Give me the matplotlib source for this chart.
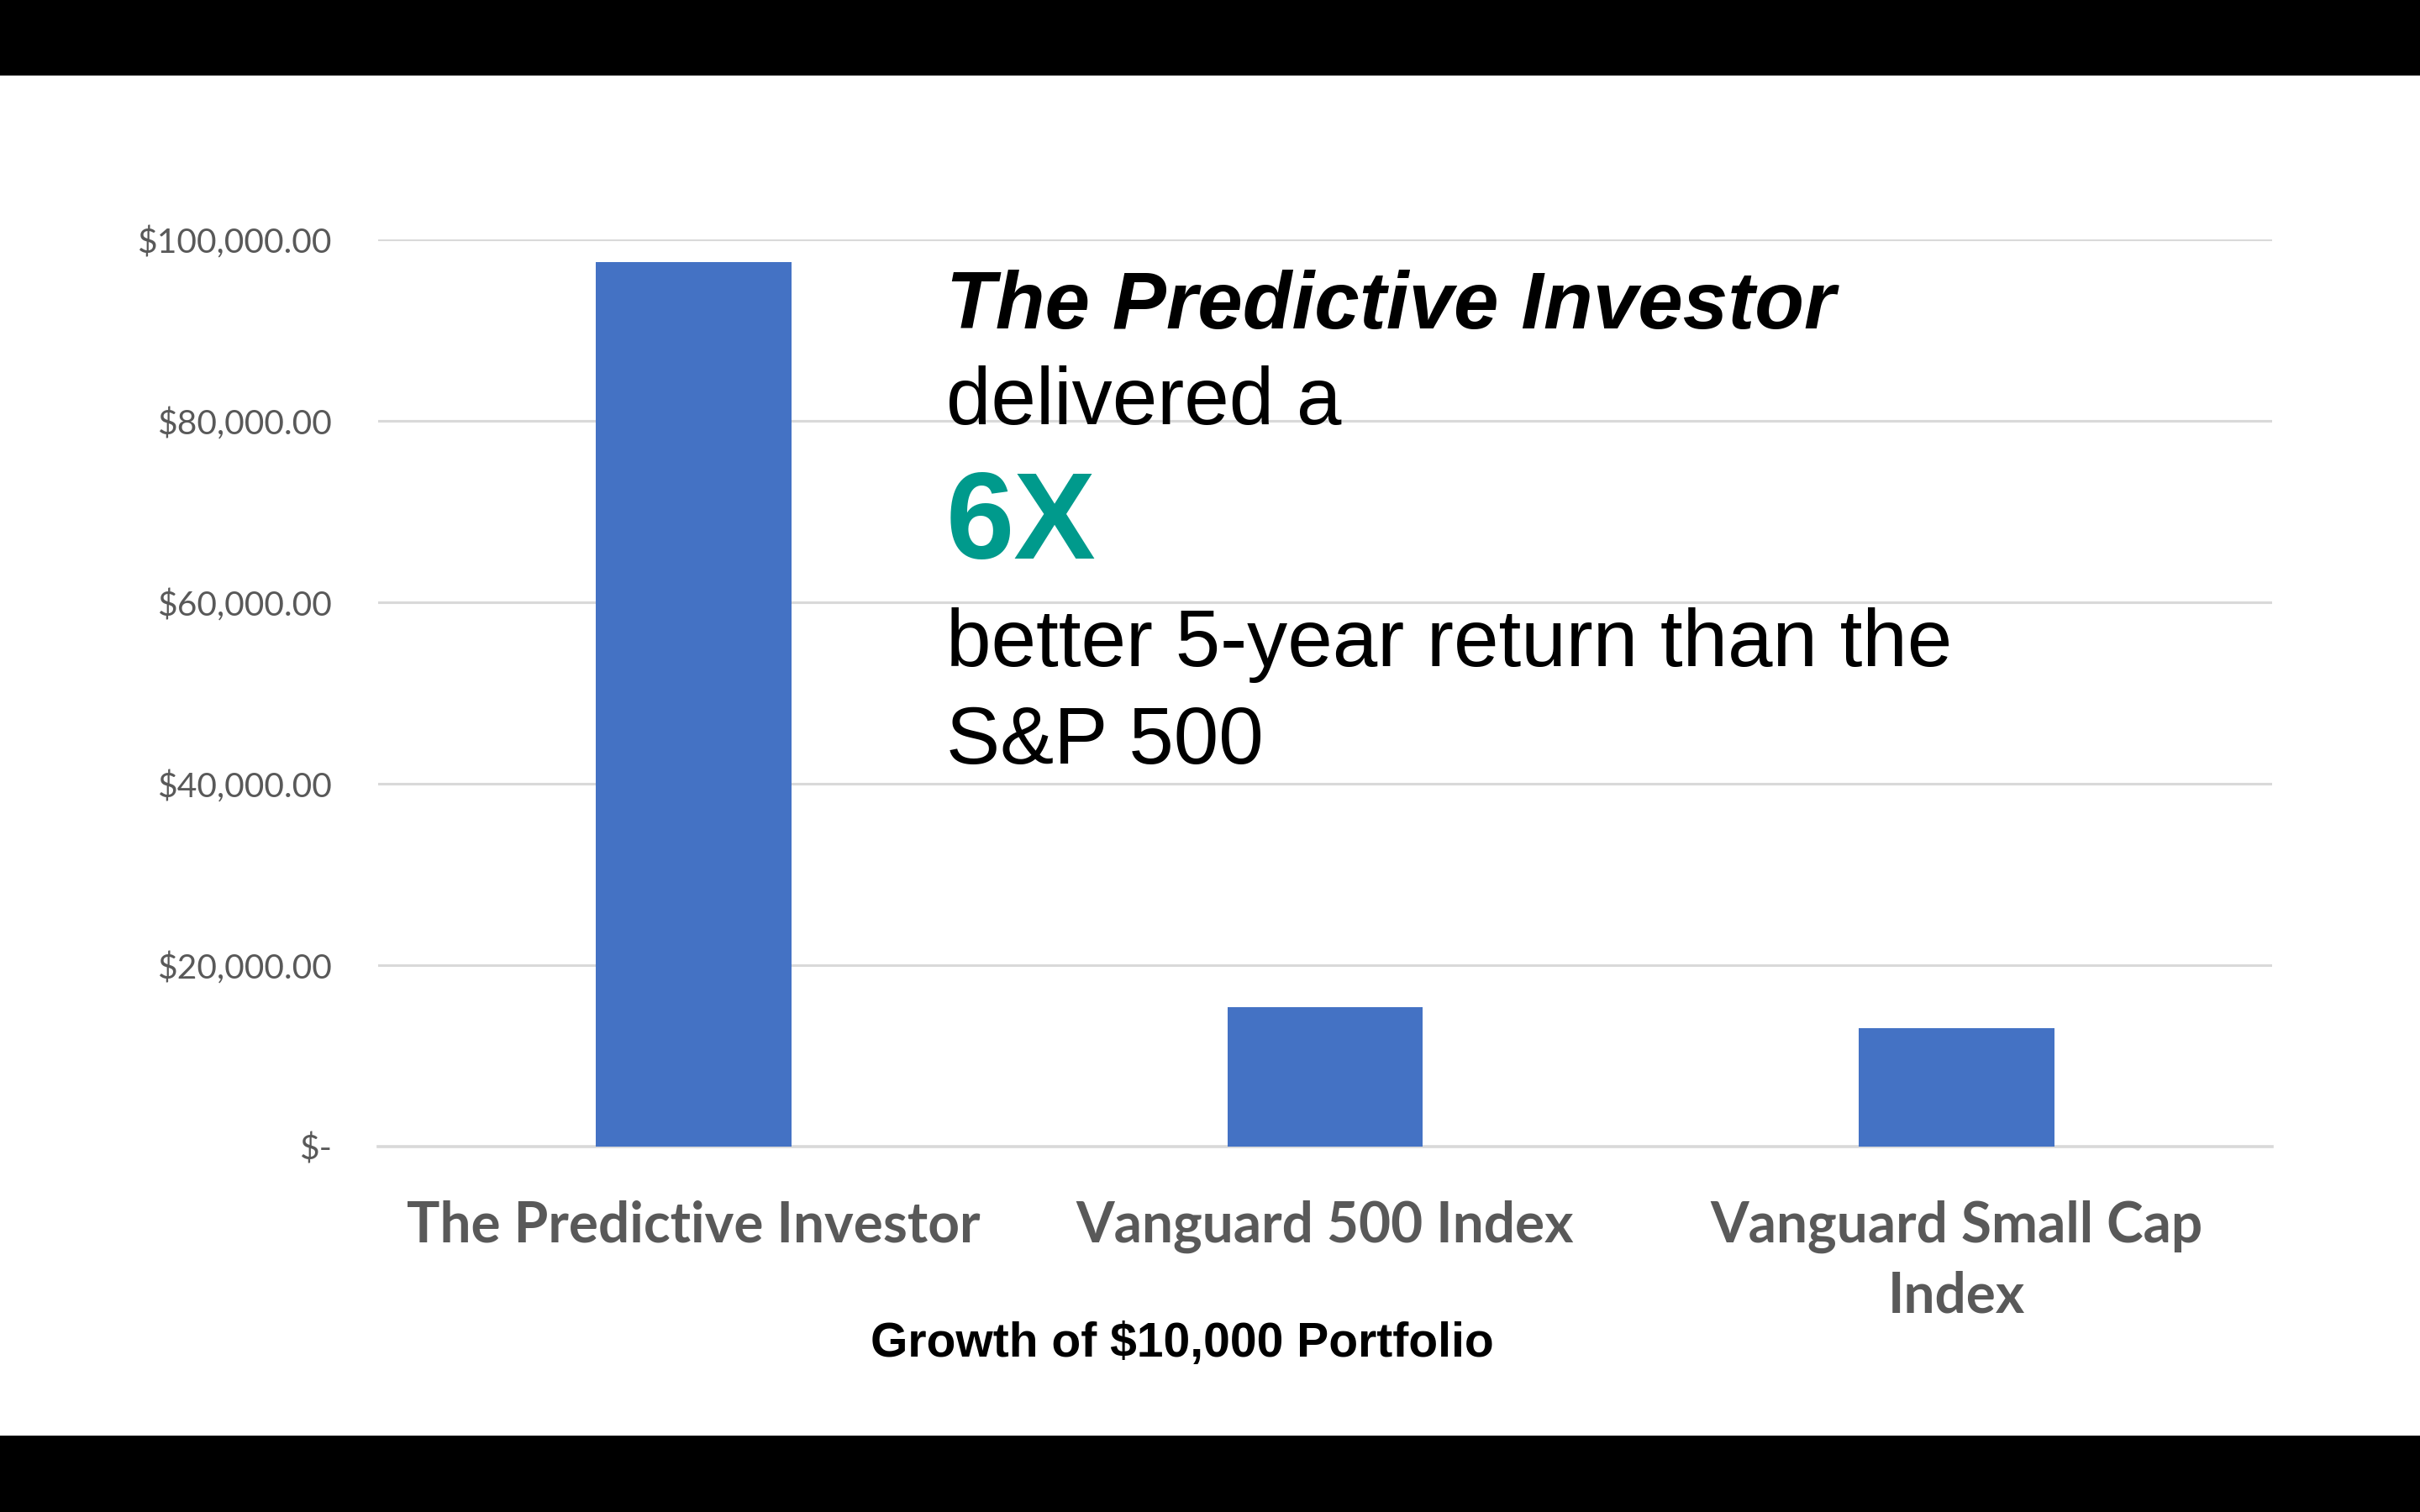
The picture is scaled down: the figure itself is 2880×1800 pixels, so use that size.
import matplotlib
matplotlib.use('Agg')
import matplotlib.pyplot as plt
from matplotlib.patches import Rectangle
from matplotlib.ticker import FuncFormatter

# data
categories = ['The Predictive Investor', 'Vanguard 500 Index', 'Vanguard Small Cap\nIndex']
values = [97500, 15400, 13100]
yticks = [0, 20000, 40000, 60000, 80000, 100000]

bar_color = '#4472C4'
grid_color = '#D9D9D9'
label_gray = '#595959'

fig = plt.figure(figsize=(14.4, 9), dpi=200)
fig.patch.set_facecolor('white')

# black letterbox bands top and bottom
fig.patches.append(Rectangle((0, 1 - 88/1800), 1, 88/1800, transform=fig.transFigure,
                             color='black', zorder=0))
fig.patches.append(Rectangle((0, 0), 1, 90/1800, transform=fig.transFigure,
                             color='black', zorder=0))

ax = fig.add_axes([450/2880, 435/1800, (2704-450)/2880, (1365-285)/1800])
ax.bar(range(len(values)), values, width=0.31, color=bar_color, zorder=3)
ax.set_xlim(-0.5, 2.5)
ax.set_ylim(0, 100000)

ax.set_yticks(yticks)
ax.yaxis.set_major_formatter(FuncFormatter(lambda v, p: '$-' if v == 0 else '${:,.2f}'.format(v)))
ax.grid(axis='y', color=grid_color, linewidth=1.1, zorder=0)
ax.set_axisbelow(True)

for s in ['top', 'right', 'left']:
    ax.spines[s].set_visible(False)
ax.spines['bottom'].set_color(grid_color)
ax.spines['bottom'].set_linewidth(1.3)

ax.tick_params(axis='y', length=0, pad=20, labelsize=14.7, labelcolor=label_gray)
for t in ax.get_yticklabels():
    t.set_family('Lato')

ax.set_xticks(range(len(categories)))
ax.set_xticklabels(categories, fontsize=23.7, fontweight='bold', color=label_gray,
                   family='Lato', linespacing=1.4)
ax.tick_params(axis='x', length=0, pad=23)

fig.text(1407/2880, 1 - 1600/1800, 'Growth of $10,000 Portfolio', ha='center', va='center',
         fontsize=20.5, fontweight='bold', family='Liberation Sans', color='black')

# callout text
x0 = 1126/2880
fig.text(x0, 1 - 391/1800, 'The Predictive Investor', fontsize=34.6, fontweight='bold',
         style='italic', family='Liberation Sans', va='baseline')
fig.text(x0, 1 - 505/1800, 'delivered a', fontsize=34.6, family='Liberation Sans', va='baseline')
fig.text(x0, 1 - 665/1800, '6X', fontsize=52.6, fontweight='bold', color='#009A8C',
         family='Liberation Sans', va='baseline')
fig.text(x0, 1 - 793/1800, 'better 5-year return than the', fontsize=34.6,
         family='Liberation Sans', va='baseline')
fig.text(x0, 1 - 909/1800, 'S&P 500', fontsize=34.6, family='Liberation Sans', va='baseline')

fig.savefig('out.png', dpi=200)
